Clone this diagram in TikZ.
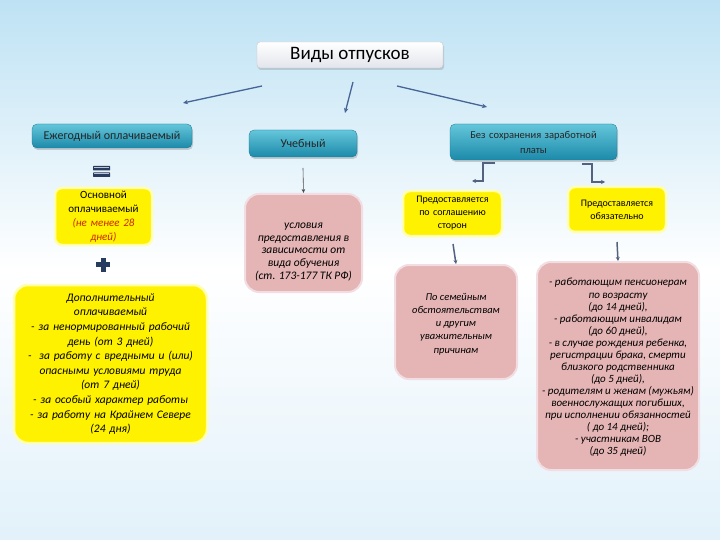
\documentclass[tikz,border=0pt]{standalone}
\usepackage{fontspec}
\setmainfont{Carlito}
\usetikzlibrary{shadows,arrows.meta}
\definecolor{tealtop}{RGB}{100,198,218}
\definecolor{tealbot}{RGB}{28,138,170}
\definecolor{pinkfill}{RGB}{229,180,180}
\definecolor{pinkedge}{RGB}{242,222,226}
\definecolor{yellowedge}{RGB}{255,255,175}
\definecolor{arrowblue}{RGB}{70,100,150}
\definecolor{navy}{RGB}{40,60,95}
\definecolor{redtext}{RGB}{200,40,0}
\definecolor{bgtop}{RGB}{190,226,244}
\definecolor{bgbot}{RGB}{226,241,250}
\definecolor{titlebot}{RGB}{226,229,236}
\tikzset{
  tealbox/.style={rounded corners=5pt, top color=tealtop, bottom color=tealbot,
    draw=tealbot!85!black, line width=0.3pt,
    drop shadow={opacity=0.35, shadow xshift=1pt, shadow yshift=-2pt},
    text=black!85, align=center, inner sep=2pt},
  titlebox/.style={rounded corners=3pt, top color=white, bottom color=titlebot,
    draw=gray!45, line width=0.4pt,
    drop shadow={opacity=0.3, shadow xshift=1pt, shadow yshift=-2pt},
    minimum width=186pt, minimum height=26pt, font=\fontsize{19}{22}\selectfont},
  ybox/.style={rounded corners=7pt, fill=yellow, draw=yellowedge, line width=2.5pt,
    align=center, inner sep=2pt},
  pbox/.style={rounded corners=14pt, fill=pinkfill, draw=pinkedge, line width=2pt},
  ptext/.style={align=center, inner sep=0pt, font=\itshape},
  arr/.style={-{Stealth[length=5pt,width=4.5pt]}, arrowblue, line width=1.3pt},
  thinarr/.style={-{Stealth[length=4pt,width=3.5pt]}, black!70, line width=0.6pt},
  navyarr/.style={-{Stealth[length=4pt,width=4pt]}, navy!80, line width=1.5pt},
  elbow/.style={-{Stealth[length=4pt,width=4pt]}, navy!80, line width=1.2pt},
}
\begin{document}
\begin{tikzpicture}[x=1pt,y=-1pt]
\shade[top color=bgtop, bottom color=bgbot, middle color=white] (0,0) rectangle (720,540);
\useasboundingbox (0,0) rectangle (720,540);

% title
\node[titlebox] (title) at (350,55) {Виды отпусков};

% top-level boxes
\node[tealbox, minimum width=160pt, minimum height=24pt, font=\fontsize{12}{14}\selectfont] (annual) at (112,136) {Ежегодный оплачиваемый};
\node[tealbox, minimum width=108pt, minimum height=27pt, font=\fontsize{12}{14}\selectfont] (study) at (303,143.5) {Учебный};
\node[tealbox, minimum width=167pt, minimum height=36pt, text width=150pt, font=\fontsize{10.5}{15}\selectfont] (unpaid) at (533.5,142) {Без сохранения заработной\\платы};

% arrows from title
\coordinate (tA) at (262,86);
\coordinate (tB) at (353,82);
\coordinate (tC) at (397,86);
\coordinate (hA) at (183,103);
\coordinate (hB) at (345,113);
\coordinate (hC) at (487,107);
\draw[arr] (tA) -- (hA);
\draw[arr] (tB) -- (hB);
\draw[arr] (tC) -- (hC);

% equals sign
\fill[navy, rounded corners=0.5pt] (93,166) rectangle (110,170.5);
\fill[navy, rounded corners=0.5pt] (93,172.5) rectangle (110,177);
\draw[white!70!navy, line width=0.5pt] (94,167) -- (109,167);
\draw[white!70!navy, line width=0.5pt] (94,173.5) -- (109,173.5);

% basic paid
\node[ybox, minimum width=97pt, minimum height=57pt, text width=92pt, font=\fontsize{11}{14}\selectfont] (basic) at (103.5,216.5)
  {Основной\\оплачиваемый\\{\color{redtext}\itshape (не менее 28\\дней)}};

% plus sign
\fill[navy] (96,262) rectangle (110,267);
\fill[navy] (100.5,257.5) rectangle (105.5,271.5);

% additional paid
\node[ybox, rounded corners=14pt, minimum width=193pt, minimum height=158pt, text width=188pt, font=\itshape\fontsize{11.5}{14.6}\selectfont] (extra) at (110.5,364)
  {Дополнительный\\оплачиваемый\\- за ненормированный рабочий\\день (от 3 дней)\\-\ \ за работу с вредными и (или)\\опасными условиями труда\\(от 7 дней)\\- за особый характер работы\\- за работу на Крайнем Севере\\(24 дня)};

% study branch
\coordinate (sA) at (303,168);
\node[pbox, minimum width=117pt, minimum height=98pt] (studybox) at (303.5,243) {};
\node[ptext, font=\itshape\fontsize{11.5}{12.8}\selectfont] (studytext) at (303.5,252)
  {условия\\предоставления в\\зависимости от\\вида обучения\\(ст. 173-177 ТК РФ)};
\draw[thinarr] (sA) -- (studybox.north);

% unpaid branch
\node[ybox, minimum width=99pt, minimum height=45pt, text width=94pt, font=\fontsize{10}{13}\selectfont] (agree) at (452.5,213.5)
  {Предоставляется\\по соглашению\\сторон};
\node[ybox, minimum width=98pt, minimum height=45pt, text width=94pt, font=\fontsize{10}{13}\selectfont] (oblig) at (617,209.5)
  {Предоставляется\\обязательно};

\coordinate (uL1) at (495,163);
\coordinate (uL2) at (483,163);
\coordinate (uL3) at (483,181);
\coordinate (uLend) at (472,181);
\draw[elbow] (uL1) -- (uL2) -- (uL3) -- (uLend);
\coordinate (uR1) at (582,164);
\coordinate (uR2) at (592,164);
\coordinate (uR3) at (592,182);
\coordinate (uRend) at (605,182);
\draw[elbow] (uR1) -- (uR2) -- (uR3) -- (uRend);

\node[pbox, minimum width=122pt, minimum height=114pt] (family) at (456,322) {};
\node[ptext, font=\itshape\fontsize{10.5}{13.2}\selectfont] (familytext) at (456,324)
  {По семейным\\обстоятельствам\\и другим\\уважительным\\причинам};
\coordinate (aS) at (453,244);
\draw[navyarr] (aS) -- (family.north);

\node[pbox, minimum width=162pt, minimum height=208pt] (listbox) at (618,366) {};
\node[ptext, font=\itshape\fontsize{11}{12.05}\selectfont] (listtext) at (618,367.5)
  {- работающим пенсионерам\\по возрасту\\(до 14 дней),\\- работающим инвалидам\\(до 60 дней),\\- в случае рождения ребенка,\\регистрации брака, смерти\\близкого родственника\\(до 5 дней),\\- родителям и женам (мужьям)\\военнослужащих погибших,\\при исполнении обязанностей\\( до 14 дней);\\- участникам ВОВ\\(до 35 дней)};
\coordinate (oS) at (617,242);
\draw[navyarr] (oS) -- (listbox.north);
\end{tikzpicture}
\end{document}
